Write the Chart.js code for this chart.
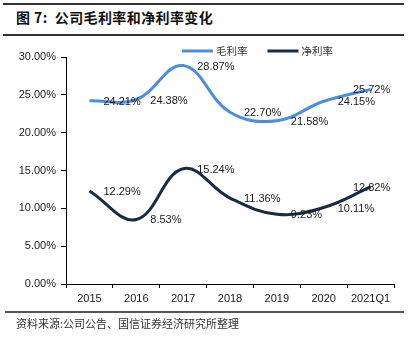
<!DOCTYPE html>
<html>
<head>
<meta charset="utf-8">
<script src="https://cdn.jsdelivr.net/npm/chart.js@4/dist/chart.umd.min.js"></script>
<style>
  html, body { margin: 0; padding: 0; background: #fff; }
  #wrap { position: relative; width: 411px; height: 340px; overflow: hidden; }
  .rule { position: absolute; left: 3px; width: 401px; height: 2px; background: #333; }
  #title {
    position: absolute; left: 16px; top: 7px;
    font: bold 14px "Noto Sans CJK SC", sans-serif; color: #111; letter-spacing: 0.4px;
  }
  #source {
    position: absolute; left: 16px; top: 315px;
    font: 11px "Noto Sans CJK SC", serif; color: #333;
  }
  #chart { position: absolute; left: 0; top: 0; }
</style>
</head>
<body>
<div id="wrap">
  <div class="rule" style="top:3px"></div>
  <div id="title">图 7:&nbsp; 公司毛利率和净利率变化</div>
  <div class="rule" style="top:34px"></div>
  <canvas id="chart" width="411" height="340"></canvas>
  <div class="rule" style="top:311px; left:5px; width:399px; height:1.5px; background:#555"></div>
  <div id="source">资料来源:公司公告、国信证券经济研究所整理</div>
</div>
<script>
const years = ['2015', '2016', '2017', '2018', '2019', '2020', '2021Q1'];
const grossMargin = [24.21, 24.38, 28.87, 22.70, 21.58, 24.15, 25.72];
const netMargin = [12.29, 8.53, 15.24, 11.36, 9.23, 10.11, 12.82];
const seriesNames = ['毛利率', '净利率'];
const yMin = 0;
const yMax = 30;
const yStep = 5;

const numFont = '"Liberation Sans", Arial, sans-serif';
const textColor = '#1a1a1a';

// value labels sit to the right of each point, the last one is centred on it
const valueLabels = {
  id: 'valueLabels',
  afterDatasetsDraw(chart) {
    const ctx = chart.ctx;
    ctx.save();
    ctx.font = '11px ' + numFont;
    ctx.fillStyle = textColor;
    ctx.textBaseline = 'middle';
    chart.data.datasets.forEach((ds, i) => {
      const meta = chart.getDatasetMeta(i);
      meta.data.forEach((pt, j) => {
        const text = ds.data[j].toFixed(2) + '%';
        if (j === meta.data.length - 1) {
          ctx.textAlign = 'center';
          ctx.fillText(text, pt.x + 1, pt.y + 1);
        } else {
          ctx.textAlign = 'left';
          ctx.fillText(text, pt.x + 14, pt.y + 1);
        }
      });
    });
    ctx.restore();
  }
};

// line-sample legend above the plot
const lineLegend = {
  id: 'lineLegend',
  afterDraw(chart) {
    const ctx = chart.ctx;
    ctx.save();
    ctx.font = '10.5px "Noto Sans CJK SC", sans-serif';
    ctx.textBaseline = 'middle';
    let x = 182;
    const y = 51;
    chart.data.datasets.forEach(ds => {
      ctx.strokeStyle = ds.borderColor;
      ctx.lineWidth = 3;
      ctx.beginPath();
      ctx.moveTo(x, y);
      ctx.lineTo(x + 31, y);
      ctx.stroke();
      ctx.fillStyle = '#333';
      ctx.textAlign = 'left';
      ctx.fillText(ds.label, x + 34, y);
      x += 34 + ctx.measureText(ds.label).width + 20;
    });
    ctx.restore();
  }
};

new Chart(document.getElementById('chart'), {
  type: 'line',
  data: {
    labels: years,
    datasets: [
      {
        label: seriesNames[0],
        data: grossMargin,
        borderColor: '#4a8fdc',
        borderWidth: 3,
        tension: 0.4,
        pointRadius: 0,
        fill: false
      },
      {
        label: seriesNames[1],
        data: netMargin,
        borderColor: '#172b47',
        borderWidth: 3,
        tension: 0.4,
        pointRadius: 0,
        fill: false
      }
    ]
  },
  options: {
    responsive: false,
    animation: false,
    layout: { padding: { left: 0, right: 17, top: 57, bottom: 36 } },
    scales: {
      x: {
        offset: true,
        afterFit(scale) { scale.height = 20; },
        grid: {
          offset: true,
          drawOnChartArea: false,
          drawTicks: true,
          tickLength: 4,
          color: '#000'
        },
        border: { display: true, color: '#000', width: 1 },
        ticks: {
          padding: 4,
          maxRotation: 0,
          autoSkip: false,
          color: textColor,
          font: { family: numFont, size: 11 }
        }
      },
      y: {
        min: yMin,
        max: yMax,
        afterFit(scale) { scale.width = 66; },
        grid: {
          drawOnChartArea: false,
          drawTicks: true,
          tickLength: 5,
          color: '#000'
        },
        border: { display: true, color: '#000', width: 1 },
        ticks: {
          stepSize: yStep,
          padding: 5,
          color: textColor,
          font: { family: numFont, size: 11 },
          callback: v => v.toFixed(2) + '%'
        }
      }
    },
    plugins: {
      legend: { display: false },
      tooltip: { enabled: false }
    }
  },
  plugins: [valueLabels, lineLegend]
});
</script>
</body>
</html>
